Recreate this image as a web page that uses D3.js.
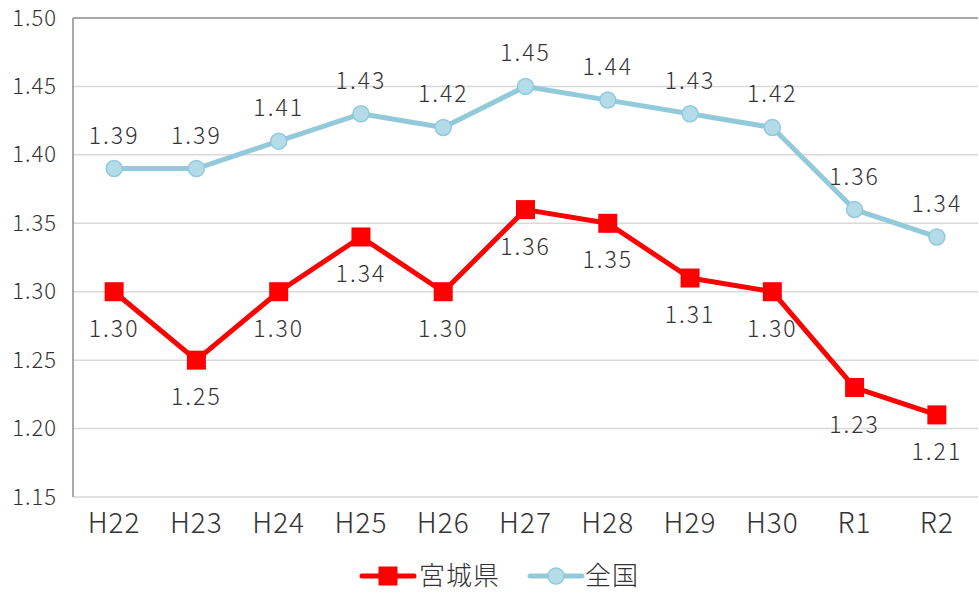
<!DOCTYPE html>
<html>
<head>
<meta charset="utf-8">
<script src="https://cdn.jsdelivr.net/npm/d3@7"></script>
<style>
  body { margin: 0; background: #fff; }
  text { font-family: "Noto Sans CJK JP", "Noto Sans", sans-serif; font-weight: 300; fill: #333; }
</style>
</head>
<body>
<div id="vis"></div>
<script>
// Chart values
const years = ['H22', 'H23', 'H24', 'H25', 'H26', 'H27', 'H28', 'H29', 'H30', 'R1', 'R2'];
const miyagi = [1.30, 1.25, 1.30, 1.34, 1.30, 1.36, 1.35, 1.31, 1.30, 1.23, 1.21];
const zenkoku = [1.39, 1.39, 1.41, 1.43, 1.42, 1.45, 1.44, 1.43, 1.42, 1.36, 1.34];
const yTicks = [1.15, 1.20, 1.25, 1.30, 1.35, 1.40, 1.45, 1.50];
const seriesNames = ['宮城県', '全国'];

const W = 979, H = 593;
const margin = {top: 18, right: 1, bottom: 96, left: 73};
const width = W - margin.left - margin.right;
const height = H - margin.top - margin.bottom;

const svg = d3.select('#vis').append('svg')
    .attr('width', W)
    .attr('height', H);

const g = svg.append('g')
    .attr('transform', `translate(${margin.left},${margin.top})`);

const x = d3.scaleBand()
    .domain(years)
    .range([0, width]);

const y = d3.scaleLinear()
    .domain([1.15, 1.50])
    .range([height, 0]);

// grid lines (top one is the darker plot border)
g.append('g')
    .selectAll('line')
    .data(yTicks)
    .enter()
    .append('line')
    .attr('x1', 0)
    .attr('x2', width)
    .attr('y1', d => y(d))
    .attr('y2', d => y(d))
    .attr('stroke', d => d === 1.50 ? '#8c8c8c' : '#d9d9d9')
    .attr('stroke-width', 1.5);

// left axis line
g.append('line')
    .attr('x1', 0).attr('x2', 0)
    .attr('y1', 0).attr('y2', height)
    .attr('stroke', '#8c8c8c')
    .attr('stroke-width', 1.5);

// y tick labels
const yAxis = d3.axisLeft(y)
    .tickValues(yTicks)
    .tickFormat(d3.format('.2f'))
    .tickSize(0)
    .tickPadding(16);
const ya = g.append('g').call(yAxis);
ya.select('.domain').remove();
ya.selectAll('text')
    .style('font-size', '22px')
    .style('letter-spacing', '1px')
    .attr('fill', '#333');

// x tick labels
const xAxis = d3.axisBottom(x)
    .tickSize(0)
    .tickPadding(16);
const xa = g.append('g')
    .attr('transform', `translate(0,${height})`)
    .call(xAxis);
xa.select('.domain').remove();
xa.selectAll('text')
    .style('font-size', '28px')
    .style('letter-spacing', '1px')
    .attr('fill', '#333');

const cx = d => x(d) + x.bandwidth() / 2;

const line = d3.line()
    .x((d, i) => cx(years[i]))
    .y(d => y(d));

const blue = '#92cadc';
const blueFill = '#b3dce8';
const red = '#ff0000';

// 全国 line
g.append('path')
    .datum(zenkoku)
    .attr('d', line)
    .attr('fill', 'none')
    .attr('stroke', blue)
    .attr('stroke-width', 5)
    .attr('stroke-linejoin', 'round');

g.selectAll('circle.zk')
    .data(zenkoku)
    .enter()
    .append('circle')
    .attr('class', 'zk')
    .attr('cx', (d, i) => cx(years[i]))
    .attr('cy', d => y(d))
    .attr('r', 8)
    .attr('fill', blueFill)
    .attr('stroke', blue)
    .attr('stroke-width', 1.5);

// 宮城県 line
g.append('path')
    .datum(miyagi)
    .attr('d', line)
    .attr('fill', 'none')
    .attr('stroke', red)
    .attr('stroke-width', 5)
    .attr('stroke-linejoin', 'round');

g.selectAll('rect.mg')
    .data(miyagi)
    .enter()
    .append('rect')
    .attr('class', 'mg')
    .attr('x', (d, i) => cx(years[i]) - 9.5)
    .attr('y', d => y(d) - 9.5)
    .attr('width', 19)
    .attr('height', 19)
    .attr('fill', red);

// data labels
g.selectAll('text.lz')
    .data(zenkoku)
    .enter()
    .append('text')
    .attr('class', 'lz')
    .attr('x', (d, i) => cx(years[i]))
    .attr('y', d => y(d) - 25)
    .attr('text-anchor', 'middle')
    .style('font-size', '23px')
    .style('letter-spacing', '2px')
    .text(d => d.toFixed(2));

g.selectAll('text.lm')
    .data(miyagi)
    .enter()
    .append('text')
    .attr('class', 'lm')
    .attr('x', (d, i) => cx(years[i]))
    .attr('y', d => y(d) + 45)
    .attr('text-anchor', 'middle')
    .style('font-size', '23px')
    .style('letter-spacing', '2px')
    .text(d => d.toFixed(2));

// legend
const legend = svg.append('g').attr('transform', 'translate(0,576)');
const lm = legend.append('g').attr('transform', 'translate(362,0)');
lm.append('line').attr('x1', 0).attr('x2', 52).attr('y1', 0).attr('y2', 0)
    .attr('stroke', red).attr('stroke-width', 5).attr('stroke-linecap', 'round');
lm.append('rect').attr('x', 16.5).attr('y', -9.5).attr('width', 19).attr('height', 19).attr('fill', red);
lm.append('text').attr('x', 57).attr('y', 9).style('font-size', '26px').style('letter-spacing', '1px').text(seriesNames[0]);

const lz = legend.append('g').attr('transform', 'translate(530,0)');
lz.append('line').attr('x1', 0).attr('x2', 52).attr('y1', 0).attr('y2', 0)
    .attr('stroke', blue).attr('stroke-width', 5).attr('stroke-linecap', 'round');
lz.append('circle').attr('cx', 26).attr('cy', 0).attr('r', 8)
    .attr('fill', blueFill).attr('stroke', blue).attr('stroke-width', 1.5);
lz.append('text').attr('x', 55).attr('y', 9).style('font-size', '26px').style('letter-spacing', '1px').text(seriesNames[1]);
</script>
</body>
</html>
